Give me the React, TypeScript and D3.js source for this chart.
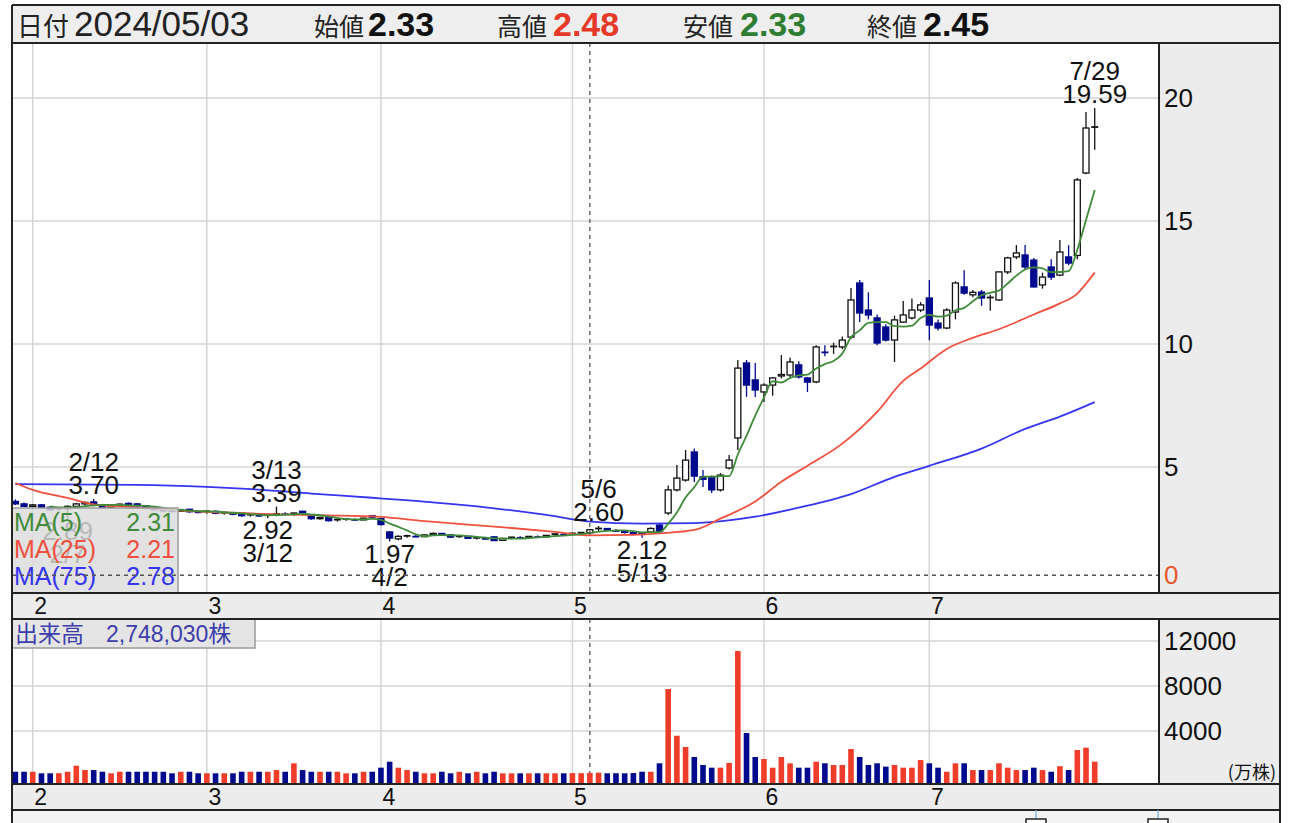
import React, { useEffect, useRef } from 'react';
import * as d3 from 'd3';

// trading days shown on the chart (2024)
const tradingDays = [
  '1/30', '1/31',
  '2/1', '2/2', '2/5', '2/6', '2/7', '2/8', '2/9', '2/12', '2/13', '2/14', '2/15', '2/16', '2/20', '2/21', '2/22', '2/23', '2/26', '2/27', '2/28', '2/29',
  '3/1', '3/4', '3/5', '3/6', '3/7', '3/8', '3/11', '3/12', '3/13', '3/14', '3/15', '3/18', '3/19', '3/20', '3/21', '3/22', '3/25', '3/26', '3/27', '3/28',
  '4/1', '4/2', '4/3', '4/4', '4/5', '4/8', '4/9', '4/10', '4/11', '4/12', '4/15', '4/16', '4/17', '4/18', '4/19', '4/22', '4/23', '4/24', '4/25', '4/26', '4/29', '4/30',
  '5/1', '5/2', '5/3', '5/6', '5/7', '5/8', '5/9', '5/10', '5/13', '5/14', '5/15', '5/16', '5/17', '5/20', '5/21', '5/22', '5/23', '5/24', '5/28', '5/29', '5/30', '5/31',
  '6/3', '6/4', '6/5', '6/6', '6/7', '6/10', '6/11', '6/12', '6/13', '6/14', '6/17', '6/18', '6/20', '6/21', '6/24', '6/25', '6/26', '6/27', '6/28',
  '7/1', '7/2', '7/3', '7/5', '7/8', '7/9', '7/10', '7/11', '7/12', '7/15', '7/16', '7/17', '7/18', '7/19', '7/22', '7/23', '7/24', '7/25', '7/26', '7/29',
];

const openPrices = [
  3.60, 3.50,
  3.40, 3.46, 3.36, 3.26, 3.30, 3.40, 3.50, 3.58, 3.44, 3.36, 3.44, 3.52, 3.50, 3.42, 3.32, 3.26, 3.22, 3.20, 3.28, 3.20,
  3.16, 3.20, 3.12, 3.14, 3.08, 3.02, 3.06, 3.02, 3.04, 3.10, 3.08, 3.20, 3.06, 2.90, 2.95, 2.82, 2.86, 2.88, 2.85, 3.02,
  2.90, 2.36, 2.08, 2.18, 2.20, 2.17, 2.24, 2.30, 2.24, 2.15, 2.18, 2.10, 2.12, 2.16, 2.02, 2.10, 2.14, 2.12, 2.18, 2.16, 2.22, 2.27,
  2.25, 2.30, 2.33, 2.45, 2.50, 2.44, 2.40, 2.34, 2.32, 2.36, 2.64, 3.13, 4.07, 4.47, 5.61, 4.60, 4.59, 4.07, 4.96, 6.18, 9.23, 8.54,
  8.05, 8.33, 8.70, 8.74, 9.15, 8.62, 8.46, 9.70, 9.86, 9.88, 10.28, 12.48, 11.38, 11.06, 10.69, 10.16, 10.89, 11.06, 11.38,
  11.87, 10.85, 10.65, 11.30, 12.32, 12.00, 12.11, 11.85, 11.79, 12.93, 13.54, 13.62, 13.41, 12.40, 13.13, 12.80, 13.54, 13.60, 16.95, 18.78,
];

const highPrices = [
  3.68, 3.56,
  3.50, 3.50, 3.40, 3.34, 3.44, 3.55, 3.60, 3.70, 3.50, 3.48, 3.52, 3.56, 3.54, 3.45, 3.38, 3.32, 3.28, 3.30, 3.30, 3.24,
  3.22, 3.22, 3.18, 3.16, 3.10, 3.08, 3.10, 3.06, 3.39, 3.16, 3.14, 3.22, 3.08, 2.98, 2.98, 2.90, 2.92, 2.92, 2.94, 3.05,
  2.94, 2.40, 2.22, 2.25, 2.24, 2.26, 2.34, 2.32, 2.26, 2.22, 2.20, 2.15, 2.16, 2.18, 2.12, 2.16, 2.18, 2.20, 2.22, 2.24, 2.30, 2.32,
  2.34, 2.36, 2.48, 2.60, 2.52, 2.48, 2.44, 2.38, 2.34, 2.55, 2.68, 4.25, 5.08, 5.69, 5.75, 4.88, 4.65, 4.75, 5.49, 9.35, 9.35, 9.23,
  8.40, 8.66, 9.55, 9.45, 9.30, 8.66, 9.95, 9.95, 10.05, 10.30, 12.28, 12.60, 12.10, 11.20, 10.80, 11.15, 11.75, 11.85, 11.70,
  12.60, 11.00, 11.45, 12.55, 13.00, 12.20, 12.20, 12.00, 12.95, 13.55, 14.02, 14.02, 13.50, 12.90, 13.45, 14.23, 14.02, 16.75, 19.43, 19.59,
];

const lowPrices = [
  3.45, 3.36,
  3.35, 3.32, 3.22, 3.18, 2.89, 3.36, 3.44, 3.40, 3.30, 3.32, 3.40, 3.40, 3.38, 3.28, 3.22, 3.18, 3.16, 3.18, 3.14, 3.12,
  3.10, 3.08, 3.06, 3.04, 2.98, 2.98, 2.98, 2.92, 3.00, 3.04, 3.02, 3.10, 2.86, 2.86, 2.78, 2.78, 2.82, 2.82, 2.83, 2.92,
  2.62, 1.97, 2.02, 2.12, 2.14, 2.15, 2.20, 2.20, 2.12, 2.12, 2.08, 2.05, 2.06, 1.99, 2.00, 2.06, 2.08, 2.10, 2.12, 2.14, 2.18, 2.20,
  2.22, 2.26, 2.33, 2.40, 2.40, 2.36, 2.30, 2.22, 2.12, 2.32, 2.34, 3.05, 4.00, 4.40, 4.39, 4.19, 3.94, 4.00, 4.90, 5.69, 7.85, 7.85,
  7.64, 7.90, 8.60, 8.65, 8.60, 8.05, 8.40, 9.50, 9.60, 9.80, 10.20, 10.89, 11.00, 9.95, 10.10, 9.27, 10.85, 11.00, 11.30,
  10.15, 10.55, 10.60, 11.00, 12.00, 11.90, 11.55, 11.35, 11.75, 12.85, 13.45, 13.05, 12.30, 12.25, 12.60, 12.75, 13.20, 13.45, 16.90, 17.90,
];

const closePrices = [
  3.50, 3.40,
  3.46, 3.36, 3.26, 3.30, 3.40, 3.50, 3.56, 3.46, 3.36, 3.44, 3.48, 3.45, 3.42, 3.32, 3.26, 3.22, 3.20, 3.26, 3.18, 3.16,
  3.20, 3.12, 3.14, 3.08, 3.02, 3.06, 3.02, 3.04, 3.10, 3.08, 3.12, 3.14, 2.90, 2.95, 2.82, 2.86, 2.88, 2.85, 2.92, 2.96,
  2.66, 2.11, 2.18, 2.20, 2.17, 2.24, 2.30, 2.24, 2.15, 2.18, 2.10, 2.12, 2.08, 2.01, 2.10, 2.14, 2.12, 2.18, 2.15, 2.22, 2.27, 2.25,
  2.30, 2.33, 2.45, 2.50, 2.44, 2.40, 2.34, 2.28, 2.26, 2.50, 2.38, 4.07, 4.55, 5.28, 4.63, 4.50, 4.07, 4.67, 5.28, 9.02, 8.33, 8.13,
  8.33, 8.62, 8.76, 9.27, 8.66, 8.45, 9.88, 9.66, 9.90, 10.16, 11.79, 11.26, 11.18, 10.04, 10.16, 10.98, 11.18, 11.38, 11.59,
  10.77, 10.65, 11.38, 12.48, 12.07, 12.10, 11.87, 11.89, 12.93, 13.50, 13.70, 13.13, 12.32, 12.72, 12.72, 13.74, 13.29, 16.67, 18.78, 18.82,
];

// volume in 万株
const volumes = [
  380, 380,
  380, 240, 240, 250, 380, 915, 530, 530, 380, 240, 380, 380, 380, 380, 380, 380, 240, 380, 380, 240,
  240, 240, 240, 240, 380, 380, 380, 380, 530, 380, 1130, 530, 380, 380, 380, 380, 240, 240, 380, 380,
  740, 1270, 740, 530, 380, 240, 240, 380, 240, 380, 240, 380, 240, 380, 240, 240, 240, 240, 240, 240, 240, 240,
  260, 250, 274.803, 300, 240, 250, 240, 260, 380, 380, 1130, 7730, 3580, 2580, 1690, 980, 740, 740, 1160, 11110, 3820, 1690,
  1510, 740, 1690, 1130, 740, 740, 1270, 1130, 980, 980, 2400, 1690, 980, 1130, 830, 980, 740, 740, 1420,
  1130, 740, 380, 1130, 1130, 530, 530, 530, 1130, 740, 530, 530, 740, 530, 380, 870, 530, 2310, 2520, 1270,
];

const ma25Days = ['1/30', '2/1', '2/7', '2/12', '2/20', '2/26', '3/1', '3/15', '3/28', '4/1', '4/8', '4/15', '4/22', '4/29', '5/3', '5/10', '5/15', '5/21', '5/24', '5/31', '6/5', '6/10', '6/14', '6/21', '6/26', '6/28', '7/3', '7/9', '7/12', '7/18', '7/23', '7/25', '7/26', '7/29'];
const ma25Values = [4.35, 4.07, 3.74, 3.48, 3.36, 3.25, 3.18, 3.06, 2.99, 2.97, 2.80, 2.66, 2.52, 2.36, 2.22, 2.24, 2.30, 2.44, 2.90, 3.60, 4.40, 5.05, 5.95, 7.24, 8.50, 9.00, 9.80, 10.25, 10.60, 11.20, 11.65, 12.05, 12.45, 12.90];

const ma75Days = ['1/30', '2/20', '3/1', '3/11', '3/19', '3/28', '4/5', '4/18', '4/26', '5/3', '5/13', '5/21', '5/31', '6/7', '6/17', '6/25', '7/1', '7/10', '7/17', '7/23', '7/29'];
const ma75Values = [4.30, 4.27, 4.19, 4.08, 3.92, 3.75, 3.62, 3.32, 3.05, 2.78, 2.70, 2.72, 2.98, 3.35, 3.90, 4.60, 5.05, 5.75, 6.55, 7.05, 7.64];

const maLabels = ['MA(5)', 'MA(25)', 'MA(75)'];
const maLegendValues = ['2.31', '2.21', '2.78'];
const maColors = ['#3f8b3a', '#f0503e', '#3434f2'];

const highMarks = ['2/12', '3/13', '5/6', '7/29'];
const lowMarks = ['2/7', '3/12', '4/2', '5/13'];

const priceTicks = [5, 10, 15, 20];
const volumeTicks = [4000, 8000, 12000];

const cursorDay = '5/3';
const cursorDate = '2024/05/03';
const cursorPrice = 0.6;

const FONT = "'Liberation Sans', Arial, 'Noto Sans CJK JP', sans-serif";
const JP = "'Noto Sans CJK JP', 'Liberation Sans', sans-serif";

export default function App() {
  const svgRef = useRef<SVGSVGElement>(null);

  useEffect(() => {
    if (!svgRef.current) return;
    const svg = d3.select(svgRef.current);
    svg.selectAll('*').remove();

    const L = 12, R = 1280, PR = 1159;
    const HEAD_T = 5, MAIN_T = 43, MAIN_B = 593, VOL_T = 619, VOL_B = 784, BAND_B = 810;

    const rows = tradingDays.map((day, i) => ({
      day, o: openPrices[i], h: highPrices[i], l: lowPrices[i], c: closePrices[i], v: volumes[i],
    }));
    const idxOf = (day: string) => tradingDays.indexOf(day);

    const slots = [...tradingDays, ...d3.range(7).map(i => `pad${i}`)];
    const x = d3.scaleBand<string>().domain(slots).range([11, 1160]);
    const xc = (d: string) => (x(d) ?? 0) + x.bandwidth() / 2;

    const y = d3.scaleLinear().domain([0, 20]).range([590, 98]);
    const yv = d3.scaleLinear().domain([0, 12000]).range([776, 641]);

    const monthStarts = rows.filter((r, i) => i > 0 && r.day.split('/')[0] !== rows[i - 1].day.split('/')[0]);

    const root = svg.append('g').attr('font-family', FONT);

    // backgrounds
    root.append('rect').attr('x', L).attr('y', HEAD_T).attr('width', R - L).attr('height', MAIN_T - HEAD_T).attr('fill', '#eeeeee');
    root.append('rect').attr('x', L).attr('y', MAIN_T).attr('width', PR - L).attr('height', MAIN_B - MAIN_T).attr('fill', '#fff');
    root.append('rect').attr('x', PR).attr('y', MAIN_T).attr('width', R - PR).attr('height', MAIN_B - MAIN_T).attr('fill', '#ececec');
    root.append('rect').attr('x', L).attr('y', MAIN_B).attr('width', R - L).attr('height', VOL_T - MAIN_B).attr('fill', '#ececec');
    root.append('rect').attr('x', PR).attr('y', VOL_T).attr('width', R - PR).attr('height', VOL_B - VOL_T).attr('fill', '#ececec');
    root.append('rect').attr('x', L).attr('y', VOL_B).attr('width', R - L).attr('height', BAND_B - VOL_B).attr('fill', '#ececec');
    root.append('rect').attr('x', L).attr('y', BAND_B).attr('width', R - L).attr('height', 823 - BAND_B).attr('fill', '#f3f3f3');

    const defs = svg.append('defs');
    defs.append('clipPath').attr('id', 'clip-main').append('rect')
      .attr('x', L).attr('y', MAIN_T).attr('width', PR - L).attr('height', MAIN_B - MAIN_T);
    defs.append('clipPath').attr('id', 'clip-vol').append('rect')
      .attr('x', L).attr('y', VOL_T).attr('width', PR - L).attr('height', VOL_B - VOL_T);

    // grid
    const grid = root.append('g').attr('stroke', '#d5d5d5').attr('stroke-width', 1.5);
    priceTicks.forEach(t => {
      grid.append('line').attr('x1', L).attr('x2', PR).attr('y1', y(t)).attr('y2', y(t));
    });
    volumeTicks.forEach(t => {
      grid.append('line').attr('x1', L).attr('x2', PR).attr('y1', yv(t)).attr('y2', yv(t));
    });
    monthStarts.forEach(r => {
      grid.append('line').attr('x1', xc(r.day)).attr('x2', xc(r.day)).attr('y1', MAIN_T).attr('y2', MAIN_B);
      grid.append('line').attr('x1', xc(r.day)).attr('x2', xc(r.day)).attr('y1', VOL_T).attr('y2', VOL_B);
    });

    // candles
    const main = root.append('g').attr('clip-path', 'url(#clip-main)');
    const BLUE = '#000a8c';
    rows.forEach(r => {
      const up = r.c >= r.o;
      const col = up ? '#111' : BLUE;
      const cx = xc(r.day);
      main.append('line').attr('x1', cx).attr('x2', cx).attr('y1', y(r.h)).attr('y2', y(r.l))
        .attr('stroke', col).attr('stroke-width', 1.3);
      if (Math.abs(r.c - r.o) < 0.05) {
        main.append('line').attr('x1', cx - 3.5).attr('x2', cx + 3.5).attr('y1', y(r.c)).attr('y2', y(r.c))
          .attr('stroke', col).attr('stroke-width', 1.8);
      } else {
        const top = y(Math.max(r.o, r.c));
        const bot = y(Math.min(r.o, r.c));
        main.append('rect').attr('x', cx - 3).attr('width', 6).attr('y', top).attr('height', bot - top)
          .attr('fill', up ? '#fff' : BLUE).attr('stroke', col).attr('stroke-width', 1.3);
      }
    });

    // moving averages
    const line = d3.line<{ day: string; v: number }>().x(d => xc(d.day)).y(d => y(d.v)).curve(d3.curveMonotoneX);
    const ma75 = ma75Days.map((day, i) => ({ day, v: ma75Values[i] }));
    const ma25 = ma25Days.map((day, i) => ({ day, v: ma25Values[i] }));
    const ma5 = rows.slice(4).map((r, i) => ({ day: r.day, v: d3.mean(closePrices.slice(i, i + 5)) as number }));
    [ma75, ma25, ma5].forEach((pts, k) => {
      main.append('path').datum(pts).attr('d', line).attr('fill', 'none')
        .attr('stroke', maColors[2 - k]).attr('stroke-width', 1.8);
    });

    // high / low marks
    const marks = root.append('g').attr('font-size', 26).attr('text-anchor', 'middle').attr('fill', '#111');
    highMarks.forEach(day => {
      const r = rows[idxOf(day)];
      marks.append('text').attr('x', xc(day)).attr('y', y(r.h) - 28).text(day);
      marks.append('text').attr('x', xc(day)).attr('y', y(r.h) - 5).text(r.h.toFixed(2));
    });
    lowMarks.forEach(day => {
      const r = rows[idxOf(day)];
      marks.append('text').attr('x', xc(day)).attr('y', y(r.l) + 21).text(r.l.toFixed(2));
      marks.append('text').attr('x', xc(day)).attr('y', y(r.l) + 44).text(day);
    });

    // MA legend box
    root.append('rect').attr('x', L).attr('y', 508).attr('width', 166).attr('height', MAIN_B - 508)
      .attr('fill', '#dcdcdc').attr('fill-opacity', 0.82).attr('stroke', '#9a9a9a').attr('stroke-width', 1.5);
    maLabels.forEach((lab, i) => {
      const ty = 531 + i * 27;
      root.append('text').attr('x', 14).attr('y', ty).attr('font-size', 25).attr('fill', maColors[i]).text(lab);
      root.append('text').attr('x', 175).attr('y', ty).attr('font-size', 25).attr('text-anchor', 'end')
        .attr('fill', maColors[i]).text(maLegendValues[i]);
    });

    // cursor
    const cx0 = xc(cursorDay);
    const cursor = root.append('g').attr('stroke', '#555').attr('stroke-width', 1.3).attr('stroke-dasharray', '4,4');
    cursor.append('line').attr('x1', cx0).attr('x2', cx0).attr('y1', MAIN_T).attr('y2', MAIN_B);
    cursor.append('line').attr('x1', cx0).attr('x2', cx0).attr('y1', VOL_T).attr('y2', VOL_B);
    cursor.append('line').attr('x1', L).attr('x2', PR).attr('y1', y(cursorPrice)).attr('y2', y(cursorPrice));

    // volume bars
    const vol = root.append('g').attr('clip-path', 'url(#clip-vol)');
    rows.forEach(r => {
      vol.append('rect').attr('x', xc(r.day) - 2.8).attr('width', 5.6)
        .attr('y', yv(r.v)).attr('height', VOL_B - yv(r.v))
        .attr('fill', r.c >= r.o ? '#f03d2b' : BLUE);
    });

    // volume label box
    const ci = idxOf(cursorDay);
    root.append('rect').attr('x', L).attr('y', VOL_T).attr('width', 243).attr('height', 29)
      .attr('fill', '#e2e2e2').attr('fill-opacity', 0.9).attr('stroke', '#9a9a9a').attr('stroke-width', 1.5);
    const vt = root.append('text').attr('x', 15).attr('y', 642).attr('font-size', 23).attr('fill', '#3d3dab');
    vt.append('tspan').attr('font-family', JP).text('出来高');
    vt.append('tspan').attr('x', 106).text(d3.format(',')(Math.round(volumes[ci] * 10000)));
    vt.append('tspan').attr('font-family', JP).text('株');

    // right axes
    const axisText = root.append('g').attr('font-size', 26).attr('fill', '#111');
    priceTicks.forEach(t => {
      axisText.append('text').attr('x', PR + 5).attr('y', y(t)).attr('dominant-baseline', 'central').text(t);
    });
    axisText.append('text').attr('x', PR + 5).attr('y', y(cursorPrice)).attr('dominant-baseline', 'central')
      .attr('fill', '#e8582e').text(Math.floor(cursorPrice));
    volumeTicks.forEach(t => {
      axisText.append('text').attr('x', PR + 5).attr('y', yv(t)).attr('dominant-baseline', 'central').text(t);
    });
    root.append('text').attr('x', 1276).attr('y', 779).attr('text-anchor', 'end').attr('font-family', JP)
      .attr('font-size', 18).attr('fill', '#111').text('(万株)');

    // month labels in both bands
    monthStarts.forEach(r => {
      const m = r.day.split('/')[0];
      [614, 805].forEach(by => {
        root.append('text').attr('x', xc(r.day) + 8).attr('y', by).attr('text-anchor', 'middle')
          .attr('font-size', 23).attr('fill', '#111').text(m);
      });
    });

    // header
    const head = root.append('g');
    const hy = 36;
    const r0 = rows[ci];
    head.append('text').attr('x', 17).attr('y', hy).attr('font-family', JP).attr('font-size', 26).attr('fill', '#222').text('日付');
    head.append('text').attr('x', 74).attr('y', hy).attr('font-size', 35).attr('fill', '#222').text(cursorDate);
    const fields = [
      { label: '始値', v: r0.o, lx: 314, vx: 368, col: '#111' },
      { label: '高値', v: r0.h, lx: 497, vx: 553, col: '#e53a2a' },
      { label: '安値', v: r0.l, lx: 683, vx: 740, col: '#2f7d32' },
      { label: '終値', v: r0.c, lx: 867, vx: 923, col: '#111' },
    ];
    fields.forEach(f => {
      head.append('text').attr('x', f.lx).attr('y', hy).attr('font-family', JP).attr('font-size', 25).attr('fill', '#222').text(f.label);
      head.append('text').attr('x', f.vx).attr('y', hy).attr('font-size', 34).attr('font-weight', 'bold')
        .attr('fill', f.col).text(f.v.toFixed(2));
    });

    // frame lines
    const frame = root.append('g').attr('stroke', '#222').attr('stroke-width', 2);
    [HEAD_T, MAIN_T, MAIN_B, VOL_T, VOL_B, BAND_B].forEach(hy2 => {
      frame.append('line').attr('x1', L).attr('x2', R).attr('y1', hy2).attr('y2', hy2);
    });
    frame.append('line').attr('x1', L).attr('x2', L).attr('y1', HEAD_T).attr('y2', 823);
    frame.append('line').attr('x1', R).attr('x2', R).attr('y1', HEAD_T).attr('y2', 823);
    frame.append('line').attr('x1', PR).attr('x2', PR).attr('y1', MAIN_T).attr('y2', MAIN_B);
    frame.append('line').attr('x1', PR).attr('x2', PR).attr('y1', VOL_T).attr('y2', VOL_B);

    // bottom strip markers
    [1036, 1158].forEach(bx => {
      root.append('line').attr('x1', bx).attr('x2', bx).attr('y1', BAND_B).attr('y2', 823)
        .attr('stroke', '#6aaee0').attr('stroke-width', 1.2);
      root.append('rect').attr('x', bx - 10).attr('y', 819).attr('width', 20).attr('height', 8)
        .attr('fill', '#fff').attr('stroke', '#222').attr('stroke-width', 1.5);
    });
  }, []);

  return (
    <svg
      ref={svgRef}
      width={1299}
      height={823}
      style={{ position: 'absolute', left: 0, top: 0, background: '#fff', display: 'block' }}
    />
  );
}
